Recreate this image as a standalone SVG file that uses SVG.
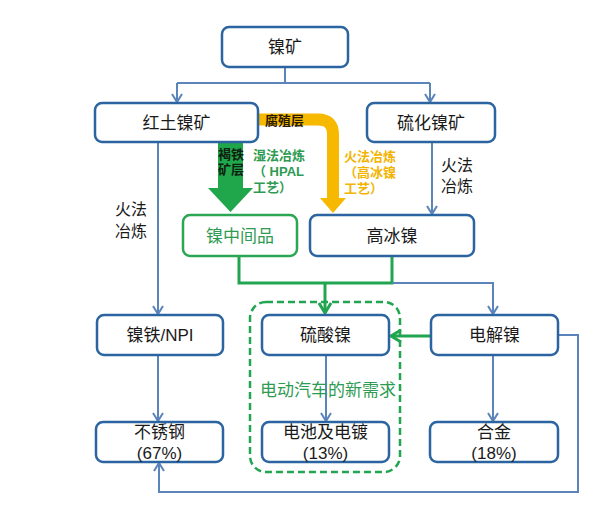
<svg xmlns="http://www.w3.org/2000/svg" width="595" height="528" viewBox="0 0 595 528">
<defs>
<marker id="ab" viewBox="0 0 12 12" refX="10" refY="6" markerWidth="12" markerHeight="12" markerUnits="userSpaceOnUse" orient="auto">
<path d="M2,1 L10,6 L2,11" fill="none" stroke="#5b84bb" stroke-width="2"/>
</marker>
<marker id="ag" viewBox="0 0 14 14" refX="12" refY="7" markerWidth="14" markerHeight="14" markerUnits="userSpaceOnUse" orient="auto">
<path d="M2,1 L12,7 L2,13" fill="none" stroke="#22a550" stroke-width="3"/>
</marker>
</defs>
<style>
.box{fill:#fff;stroke:#2b64a0;stroke-width:2.5}
.gbox{fill:#fff;stroke:#2aa655;stroke-width:2.5}
.t{font-family:"Liberation Sans","Noto Sans CJK SC",sans-serif;font-size:17px;fill:#1a1a1a;text-anchor:middle}
.gt{fill:#2e9b52}
.bl{fill:none;stroke:#5b84bb;stroke-width:2}
.gl{fill:none;stroke:#22a550;stroke-width:3}
.s{font-family:"Liberation Sans","Noto Sans CJK SC",sans-serif;font-size:13px;font-weight:bold}
.side{font-family:"Liberation Sans","Noto Sans CJK SC",sans-serif;font-size:16px;fill:#1a1a1a;text-anchor:middle}
</style>
<rect width="595" height="528" fill="#fff"/>
<g id="connectors">
<path class="bl" d="M285,67 V83"/>
<path class="bl" d="M177,83 H430"/>
<path class="bl" d="M177,83 V102" marker-end="url(#ab)"/>
<path class="bl" d="M430,83 V102" marker-end="url(#ab)"/>
<path class="bl" d="M158,142 V314" marker-end="url(#ab)"/>
<path class="bl" d="M432,142 V214" marker-end="url(#ab)"/>
<path class="gl" d="M239,256 V283 H392 V256"/>
<path class="gl" d="M325,283 V313" marker-end="url(#ag)"/>
<path class="bl" d="M392,283 H493 V314" marker-end="url(#ab)"/>
<path class="gl" d="M431,336 H391" marker-end="url(#ag)"/>
<path class="bl" d="M158,355 V421" marker-end="url(#ab)"/>
<path class="bl" d="M326,355 V421" marker-end="url(#ab)"/>
<path class="bl" d="M493,355 V421" marker-end="url(#ab)"/>
<path class="bl" d="M558,335 H578 V492 H159 V463" marker-end="url(#ab)"/>
<path d="M258,119.5 H318 Q333,119.5 333,134.5 V199" fill="none" stroke="#f6b900" stroke-width="12"/>
<polygon points="320,198 346,198 333,213" fill="#f6b900"/>
<polygon points="218,142 243,142 243,188 253,188 230.5,212 208,188 218,188" fill="#20a64b"/>
<rect x="250" y="302" width="150" height="170" rx="16" fill="none" stroke="#22a550" stroke-width="2.5" stroke-dasharray="7 4"/>
</g>
<g id="n-nieku"><rect class="box" x="222" y="27" width="126" height="40" rx="7"/><text class="t" x="285" y="53">镍矿</text></g>
<g id="n-hongtu"><rect class="box" x="95" y="103" width="163" height="39" rx="7"/><text class="t" x="176.5" y="129">红土镍矿</text></g>
<g id="n-liuhua"><rect class="box" x="367" y="103" width="128" height="39" rx="7"/><text class="t" x="431" y="129">硫化镍矿</text></g>
<g id="n-zhongjian"><rect class="gbox" x="183" y="215" width="114" height="41" rx="7"/><text class="t gt" x="240" y="242">镍中间品</text></g>
<g id="n-gaobing"><rect class="box" x="310" y="215" width="164" height="41" rx="7"/><text class="t" x="392" y="242">高冰镍</text></g>
<g id="n-npi"><rect class="box" x="97" y="315" width="126" height="40" rx="7"/><text class="t" x="160" y="341">镍铁/NPI</text></g>
<g id="n-liusuan"><rect class="box" x="262" y="315" width="127" height="40" rx="7"/><text class="t" x="325.5" y="341">硫酸镍</text></g>
<g id="n-dianjie"><rect class="box" x="431" y="315" width="127" height="40" rx="7"/><text class="t" x="494.5" y="341">电解镍</text></g>
<g id="n-buxiu"><rect class="box" x="96" y="422" width="127" height="40" rx="7"/><text class="t" x="159.5" y="438">不锈钢<tspan x="159.5" dy="21">(67%)</tspan></text></g>
<g id="n-dianchi"><rect class="box" x="262" y="422" width="127" height="40" rx="7"/><text class="t" x="325.5" y="438">电池及电镀<tspan x="325.5" dy="21">(13%)</tspan></text></g>
<g id="n-hejin"><rect class="box" x="430" y="422" width="128" height="40" rx="7"/><text class="t" x="494" y="438">合金<tspan x="494" dy="21">(18%)</tspan></text></g>
<g id="labels">
<text class="s" x="265" y="125" fill="#2a1a00">腐殖层</text>
<text class="s" x="218" y="159" fill="#102010" font-size="12">褐铁<tspan x="218" dy="15">矿层</tspan></text>
<text class="s" x="253" y="160" fill="#2e9b52">湿法冶炼<tspan x="253" dy="16">（ HPAL</tspan><tspan x="253" dy="16">工艺）</tspan></text>
<text class="s" x="344" y="161" fill="#f2b400">火法冶炼<tspan x="344" dy="16">（高冰镍</tspan><tspan x="344" dy="16">工艺）</tspan></text>
<text class="side" x="457" y="171">火法<tspan x="457" dy="21">冶炼</tspan></text>
<text class="side" x="131" y="215">火法<tspan x="131" dy="22">冶炼</tspan></text>
<text class="t gt" x="328" y="396">电动汽车的新需求</text>
</g>
</svg>
